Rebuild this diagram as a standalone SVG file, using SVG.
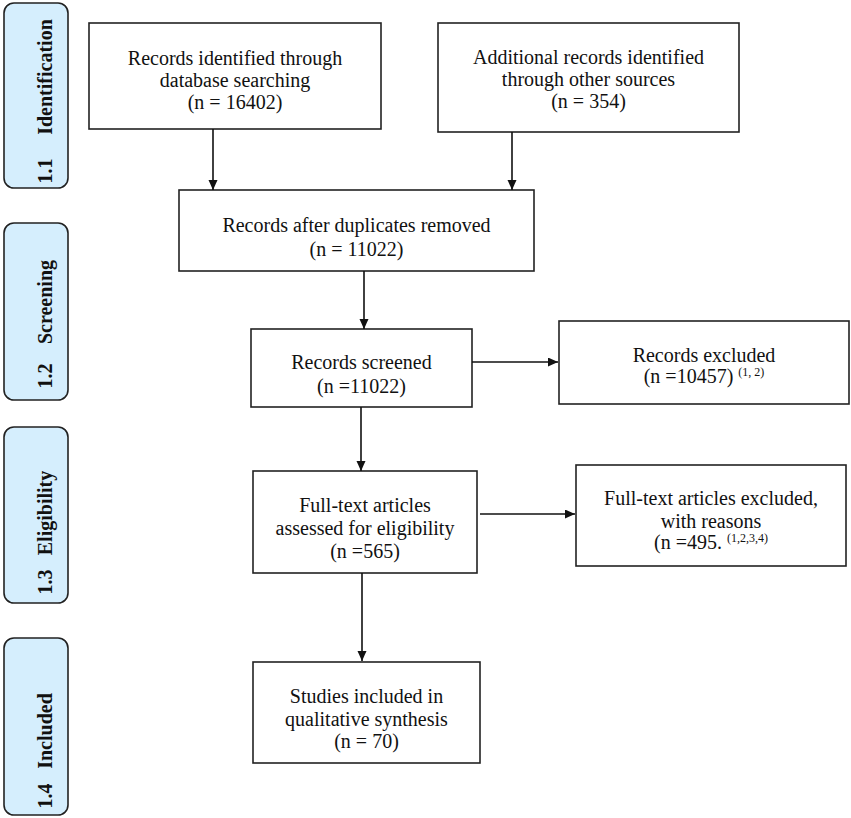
<svg xmlns="http://www.w3.org/2000/svg" width="851" height="818" viewBox="0 0 851 818">
<defs>
<marker id="ah" markerUnits="userSpaceOnUse" markerWidth="11" markerHeight="10" refX="10" refY="4.5" orient="auto">
<path d="M0,0 L10,4.5 L0,9 z" fill="#111"/>
</marker>
<style>
.box{fill:#fff;stroke:#222;stroke-width:1.6}
.side{fill:#d5eefd;stroke:#222;stroke-width:1.6}
.t{font-family:"Liberation Serif","Times New Roman",serif;font-size:20px;fill:#111;text-anchor:middle}
.s{font-family:"Liberation Serif","Times New Roman",serif;font-size:20px;font-weight:bold;fill:#111;text-anchor:middle}
.sup{font-size:12px}
.c{stroke:#111;stroke-width:1.6;fill:none;marker-end:url(#ah)}
</style>
</defs>
<rect width="851" height="818" fill="#fff"/>
<g id="stage-identification">
<rect class="side" x="4" y="3" width="64" height="185" rx="10"/>
<text class="s" transform="translate(52,171) rotate(-90)">1.1</text>
<text class="s" transform="translate(52,77) rotate(-90)">Identification</text>
</g>
<g id="stage-screening">
<rect class="side" x="4" y="223" width="64" height="177" rx="10"/>
<text class="s" transform="translate(52,376) rotate(-90)">1.2</text>
<text class="s" transform="translate(52,302) rotate(-90)">Screening</text>
</g>
<g id="stage-eligibility">
<rect class="side" x="4" y="427" width="64" height="176" rx="10"/>
<text class="s" transform="translate(52,582) rotate(-90)">1.3</text>
<text class="s" transform="translate(52,513) rotate(-90)">Eligibility</text>
</g>
<g id="stage-included">
<rect class="side" x="4" y="638" width="64" height="177" rx="10"/>
<text class="s" transform="translate(52,796) rotate(-90)">1.4</text>
<text class="s" transform="translate(52,731) rotate(-90)">Included</text>
</g>
<g id="n1">
<rect class="box" x="89" y="23" width="292" height="106"/>
<text class="t" x="235" y="65">Records identified through</text>
<text class="t" x="235" y="87">database searching</text>
<text class="t" x="235" y="109">(n = 16402)</text>
</g>
<g id="n2">
<rect class="box" x="438" y="23" width="301" height="109"/>
<text class="t" x="588.5" y="64">Additional records identified</text>
<text class="t" x="588.5" y="86">through other sources</text>
<text class="t" x="588.5" y="108">(n = 354)</text>
</g>
<g id="n3">
<rect class="box" x="179" y="190" width="355" height="81"/>
<text class="t" x="356.5" y="232">Records after duplicates removed</text>
<text class="t" x="356.5" y="256">(n = 11022)</text>
</g>
<g id="n4">
<rect class="box" x="251" y="329" width="221" height="78"/>
<text class="t" x="361.5" y="369">Records screened</text>
<text class="t" x="361.5" y="393">(n =11022)</text>
</g>
<g id="n5">
<rect class="box" x="559" y="321" width="290" height="83"/>
<text class="t" x="704" y="362">Records excluded</text>
<text class="t" x="704" y="383">(n =10457) <tspan class="sup" dy="-7">(1, 2)</tspan></text>
</g>
<g id="n6">
<rect class="box" x="253" y="471" width="224" height="102"/>
<text class="t" x="365" y="512">Full-text articles</text>
<text class="t" x="365" y="535">assessed for eligibility</text>
<text class="t" x="365" y="558">(n =565)</text>
</g>
<g id="n7">
<rect class="box" x="576" y="465" width="270" height="101"/>
<text class="t" x="711" y="505">Full-text articles excluded,</text>
<text class="t" x="711" y="528">with reasons</text>
<text class="t" x="711" y="549">(n =495. <tspan class="sup" dy="-7">(1,2,3,4)</tspan></text>
</g>
<g id="n8">
<rect class="box" x="253" y="662" width="227" height="101"/>
<text class="t" x="366.5" y="703">Studies included in</text>
<text class="t" x="366.5" y="726">qualitative synthesis</text>
<text class="t" x="366.5" y="748">(n = 70)</text>
</g>
<g id="connectors">
<line class="c" x1="213" y1="129" x2="213" y2="190"/>
<line class="c" x1="512" y1="132" x2="512" y2="190"/>
<line class="c" x1="364" y1="271" x2="364" y2="329"/>
<line class="c" x1="472" y1="362" x2="558" y2="362"/>
<line class="c" x1="361" y1="407" x2="361" y2="471"/>
<line class="c" x1="480" y1="514" x2="575" y2="514"/>
<line class="c" x1="362" y1="573" x2="362" y2="661"/>
</g>
</svg>
